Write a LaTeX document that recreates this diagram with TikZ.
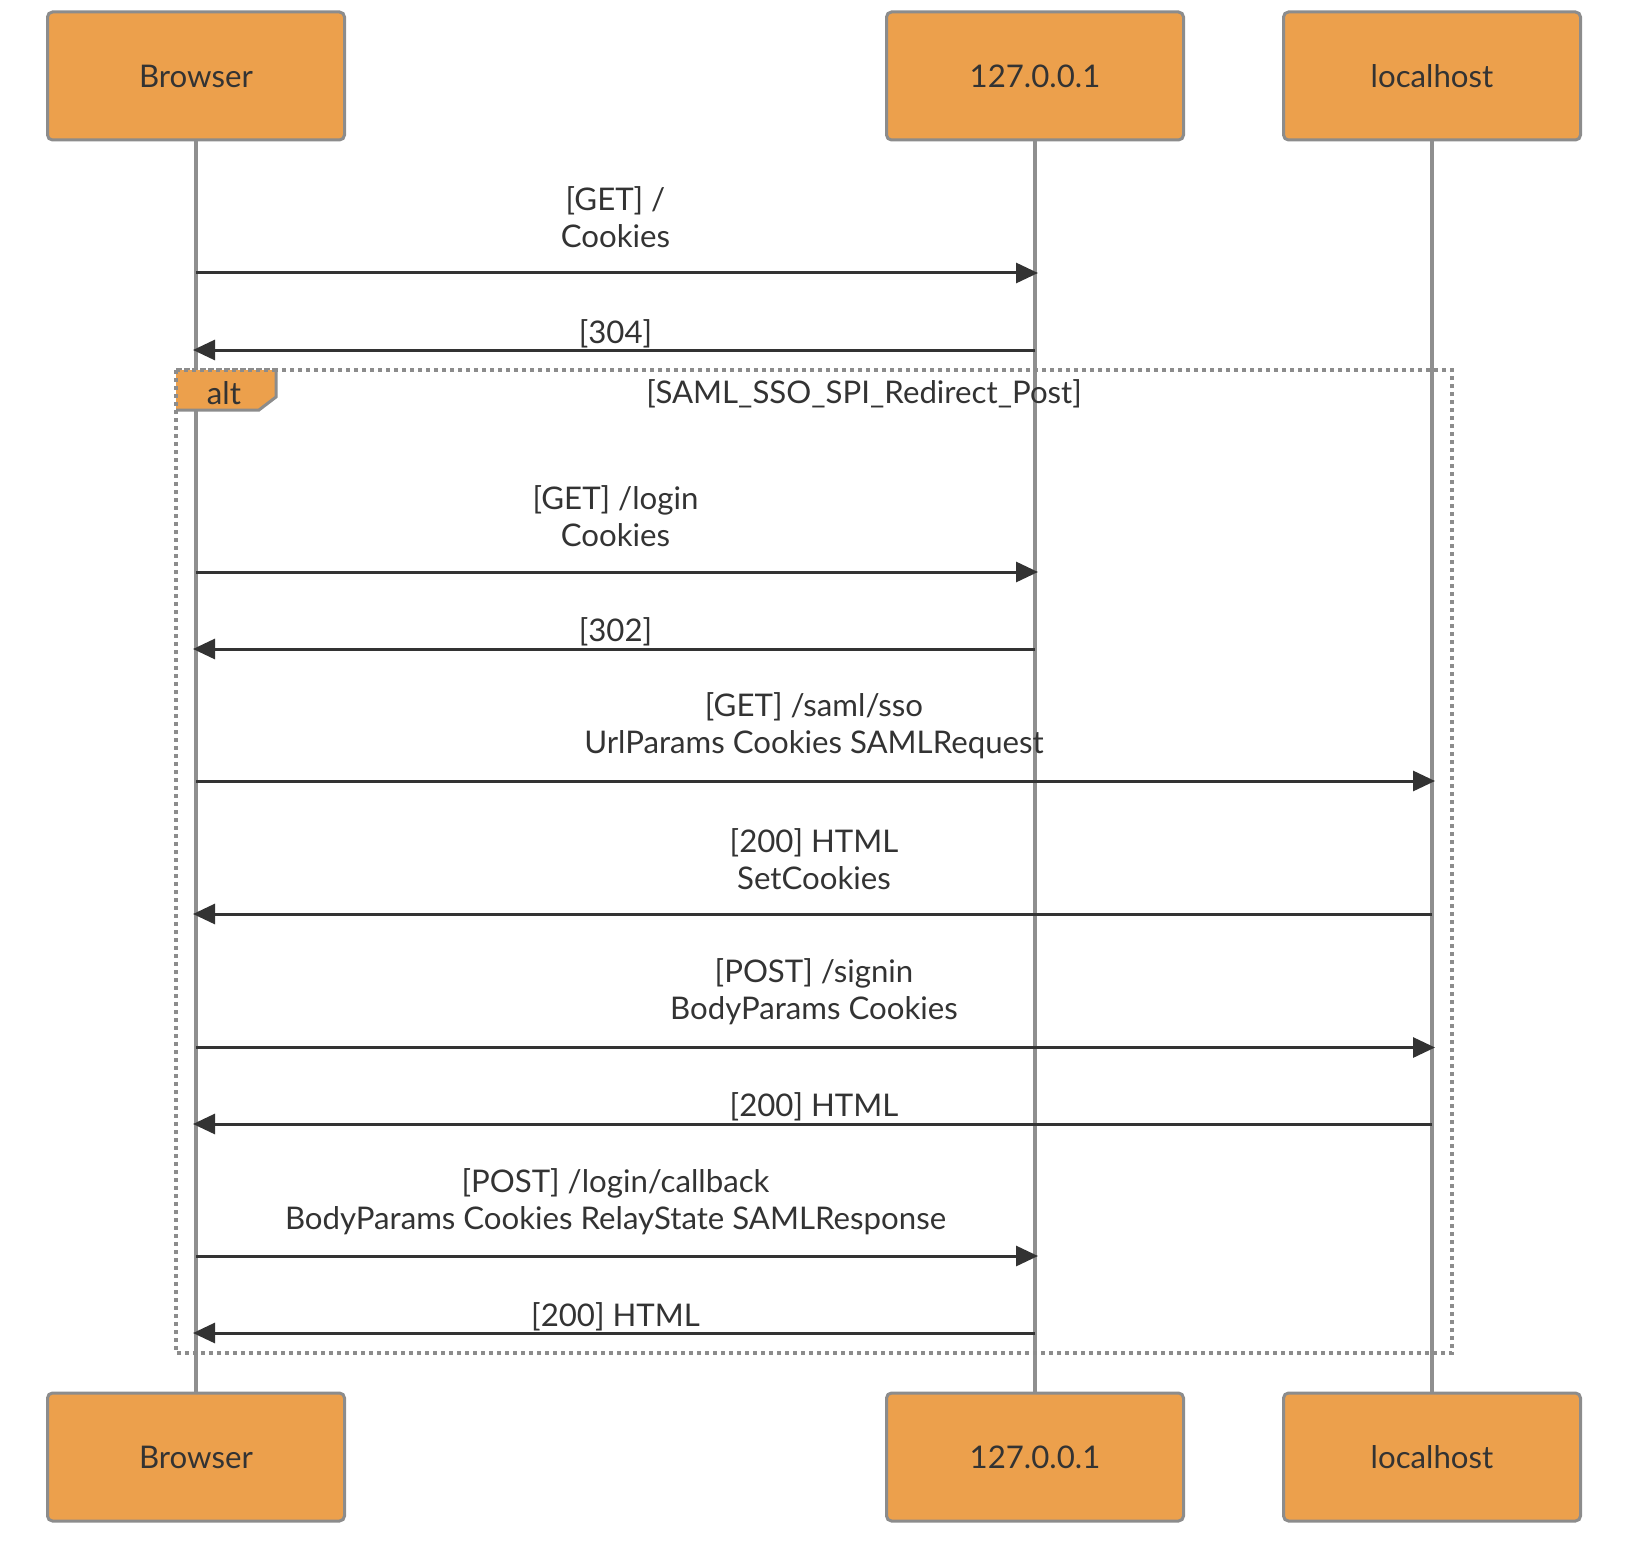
\documentclass[tikz,border=0pt]{standalone}
\usepackage{fontspec}
\setmainfont{Lato}
\usetikzlibrary{arrows.meta}
\definecolor{actfill}{HTML}{ECA04C}
\definecolor{actline}{HTML}{8C8C8C}
\definecolor{txt}{HTML}{333333}
\definecolor{lifeln}{HTML}{8F8F8F}
\tikzset{
  actor/.style={draw=actline, line width=1.5pt, fill=actfill, rounded corners=2.5pt,
    minimum width=148.5pt, minimum height=64pt, inner sep=0pt, text=txt,
    font=\fontsize{15.6}{19}\selectfont},
  lifeline/.style={draw=lifeln, line width=2pt},
  msg/.style={draw=txt, line width=1.5pt, shorten >=-1.5pt, -{Triangle[length=11pt,width=10pt]}},
  mlabel/.style={text=txt, align=center, inner sep=0pt, font=\fontsize{15.6}{18.6}\selectfont},
  altbox/.style={draw=actline, line width=1.8pt, dash pattern=on 1.8pt off 2.2pt},
}
\begin{document}
\begin{tikzpicture}[x=0.5pt,y=-0.5pt]
\useasboundingbox (0,0) rectangle (1636,1556);
% actors
\node[actor] (bt) at (196,76) {Browser};
\node[actor] (st) at (1035,76) {127.0.0.1};
\node[actor] (lt) at (1432,76) {localhost};
\node[actor] (bb) at (196,1457) {Browser};
\node[actor] (sb) at (1035,1457) {127.0.0.1};
\node[actor] (lb) at (1432,1457) {localhost};
% lifelines
\draw[lifeline] (bt.south) -- (bb.north);
\draw[lifeline] (st.south) -- (sb.north);
\draw[lifeline] (lt.south) -- (lb.north);
% alt frame
\draw[altbox] (176,370) rectangle (1452,1353);
\fill[actfill] (176,370) -- (276,370) -- (276,397) -- (259,410) -- (176,410) -- cycle;
\draw[actline, line width=1.5pt, line join=miter] (276,370) -- (276,397) -- (259,410) -- (176,410);
\draw[altbox] (176,370) -- (276,370);
\draw[altbox] (176,370) -- (176,410);
\node[mlabel] (altl) at (224,393) {alt};
\node[mlabel] (cond) at (864,394) {[SAML\_SSO\_SPI\_Redirect\_Post]};
% messages: coordinates
\foreach \n/\y in {1/273,2/350,3/572,4/649,5/781,6/914,7/1047.5,8/1124,9/1256,10/1333}{
  \coordinate (b\n) at (196,\y);
  \coordinate (s\n) at (1035,\y);
  \coordinate (l\n) at (1432,\y);
}
\draw[msg] (b1) -- (s1);
\node[mlabel] (t1) at (615.5,217) {[GET] /\\Cookies};
\draw[msg] (s2) -- (b2);
\node[mlabel] (t2) at (615.5,334) {[304]};
\draw[msg] (b3) -- (s3);
\node[mlabel] (t3) at (615.5,516) {[GET] /login\\Cookies};
\draw[msg] (s4) -- (b4);
\node[mlabel] (t4) at (615.5,632) {[302]};
\draw[msg] (b5) -- (l5);
\node[mlabel] (t5) at (814,726) {[GET] /saml/sso\\UrlParams Cookies SAMLRequest};
\draw[msg] (l6) -- (b6);
\node[mlabel] (t6) at (814,859) {[200] HTML\\SetCookies};
\draw[msg] (b7) -- (l7);
\node[mlabel] (t7) at (814,992) {[POST] /signin\\BodyParams Cookies};
\draw[msg] (l8) -- (b8);
\node[mlabel] (t8) at (814,1107) {[200] HTML};
\draw[msg] (b9) -- (s9);
\node[mlabel] (t9) at (615.5,1202) {[POST] /login/callback\\BodyParams Cookies RelayState SAMLResponse};
\draw[msg] (s10) -- (b10);
\node[mlabel] (t10) at (615.5,1317) {[200] HTML};
\end{tikzpicture}
\end{document}
